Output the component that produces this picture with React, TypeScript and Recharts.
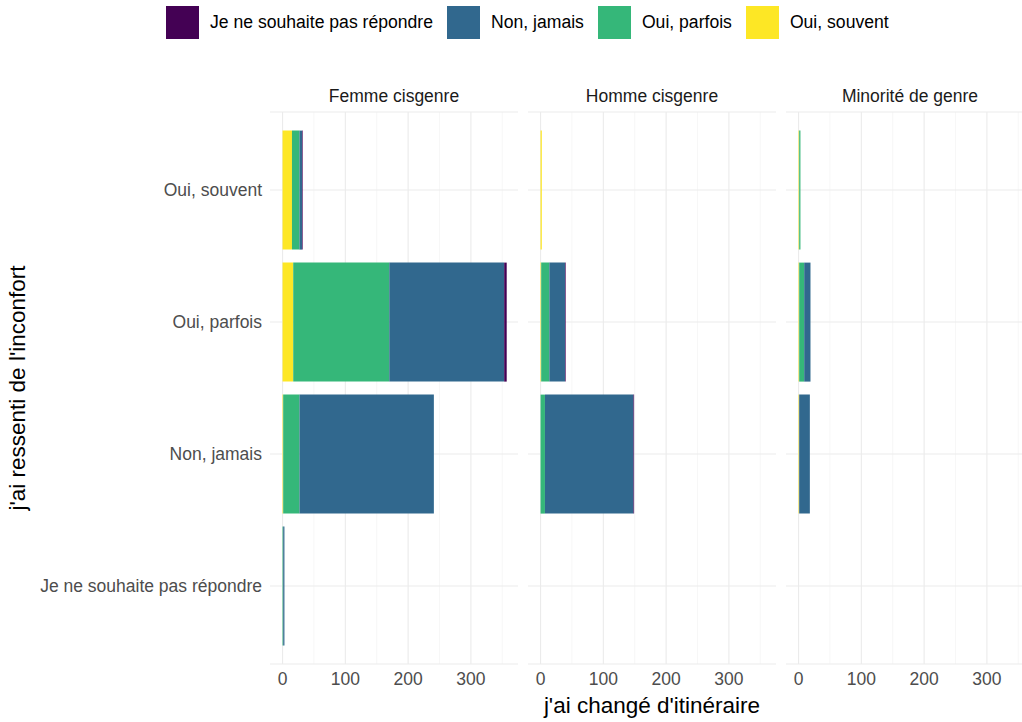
import { BarChart, Bar, XAxis, YAxis, CartesianGrid } from 'recharts';

const categories = ['Oui, souvent', 'Oui, parfois', 'Non, jamais', 'Je ne souhaite pas répondre'];
const facets = ['Femme cisgenre', 'Homme cisgenre', 'Minorité de genre'];

// stack order: first series sits next to 0
const seriesNames = ['Oui, souvent', 'Oui, parfois', 'Non, jamais', 'Je ne souhaite pas répondre'];
const seriesColors = ['#FDE725', '#35B779', '#31688E', '#440154'];
const legendOrder = ['Je ne souhaite pas répondre', 'Non, jamais', 'Oui, parfois', 'Oui, souvent'];

// values per category (same order as categories)
const femmeSouvent = [15, 17, 1, 0];
const femmeParfois = [12, 153, 26, 1];
const femmeJamais = [4, 183, 214, 2];
const femmeNsp = [1, 4, 0, 0];

const hommeSouvent = [2, 1, 0, 0];
const hommeParfois = [0, 13, 7, 0];
const hommeJamais = [0, 25, 141, 0];
const hommeNsp = [0, 1, 1, 0];

const minoSouvent = [1, 1, 1, 0];
const minoParfois = [2, 8, 0, 0];
const minoJamais = [0, 10, 17, 0];
const minoNsp = [0, 0, 0, 0];

const majorTicks = [0, 100, 200, 300];
const minorTicks = [50, 150, 250, 350];

const facetSeries = [
  [femmeSouvent, femmeParfois, femmeJamais, femmeNsp],
  [hommeSouvent, hommeParfois, hommeJamais, hommeNsp],
  [minoSouvent, minoParfois, minoJamais, minoNsp],
];

const buildRows = (series: number[][]) =>
  categories.map((cat, i) => {
    const row: Record<string, string | number> = { cat };
    seriesNames.forEach((name, s) => {
      row[name] = series[s][i];
    });
    return row;
  });

const FONT = '"Liberation Sans", Arial, sans-serif';
const PANEL_W = 248;
const Y_AXIS_W = 270;
const panelLefts = [270, 528, 786];

function Facet({ index }: { index: number }) {
  const withAxis = index === 0;
  const data = buildRows(facetSeries[index]);
  const width = PANEL_W + (withAxis ? Y_AXIS_W : 0);
  return (
    <div style={{ position: 'absolute', left: panelLefts[index] - (withAxis ? Y_AXIS_W : 0), top: 100 }}>
      <BarChart
        layout="vertical"
        width={width}
        height={600}
        data={data}
        margin={{ top: 12, right: 0, bottom: 0, left: 0 }}
        barCategoryGap="5%"
      >
        <CartesianGrid horizontal={false} verticalValues={minorTicks} stroke="#f3f3f3" strokeWidth={0.7} />
        <CartesianGrid horizontal={false} verticalValues={majorTicks} stroke="#ebebeb" strokeWidth={1.1} />
        <CartesianGrid vertical={false} stroke="#ebebeb" strokeWidth={1.1} />
        <XAxis
          type="number"
          domain={[-20, 375]}
          ticks={majorTicks}
          allowDataOverflow
          axisLine={false}
          tickLine={false}
          tickSize={4}
          tickMargin={5}
          height={36}
          tick={{ fill: '#4d4d4d', fontSize: 17.5, fontFamily: FONT }}
        />
        <YAxis
          type="category"
          dataKey="cat"
          hide={!withAxis}
          width={withAxis ? Y_AXIS_W : 0}
          padding={{ top: 12, bottom: 12 }}
          axisLine={false}
          tickLine={false}
          tickSize={4}
          tickMargin={4}
          interval={0}
          tick={{ fill: '#4d4d4d', fontSize: 17.5, fontFamily: FONT }}
        />
        {seriesNames.map((name, s) => (
          <Bar key={name} dataKey={name} stackId="a" fill={seriesColors[s]} isAnimationActive={false} />
        ))}
      </BarChart>
    </div>
  );
}

export default function App() {
  return (
    <div
      style={{
        position: 'absolute',
        left: 0,
        top: 0,
        width: 1022,
        height: 722,
        overflow: 'hidden',
        background: '#fff',
        fontFamily: FONT,
      }}
    >
      <div style={{ position: 'absolute', left: 166, top: 6, display: 'flex', alignItems: 'center' }}>
        {legendOrder.map((name) => (
          <div key={name} style={{ display: 'flex', alignItems: 'center', marginRight: 14 }}>
            <span
              style={{
                width: 33,
                height: 33,
                background: seriesColors[seriesNames.indexOf(name)],
                display: 'inline-block',
              }}
            />
            <span style={{ marginLeft: 11, fontSize: 17.6, color: '#000' }}>{name}</span>
          </div>
        ))}
      </div>

      {facets.map((f, i) => (
        <div
          key={f}
          style={{
            position: 'absolute',
            left: panelLefts[i],
            width: PANEL_W,
            top: 86,
            textAlign: 'center',
            fontSize: 17.5,
            color: '#1a1a1a',
          }}
        >
          {f}
        </div>
      ))}

      {facets.map((f, i) => (
        <Facet key={f} index={i} />
      ))}

      <div
        style={{
          position: 'absolute',
          left: 270,
          width: 764,
          top: 693,
          textAlign: 'center',
          fontSize: 22.5,
          color: '#000',
        }}
      >
        j'ai changé d'itinéraire
      </div>
      <div
        style={{
          position: 'absolute',
          left: 18,
          top: 388,
          transform: 'translate(-50%, -50%) rotate(-90deg)',
          whiteSpace: 'nowrap',
          fontSize: 22.5,
          color: '#000',
        }}
      >
        j'ai ressenti de l'inconfort
      </div>
    </div>
  );
}
